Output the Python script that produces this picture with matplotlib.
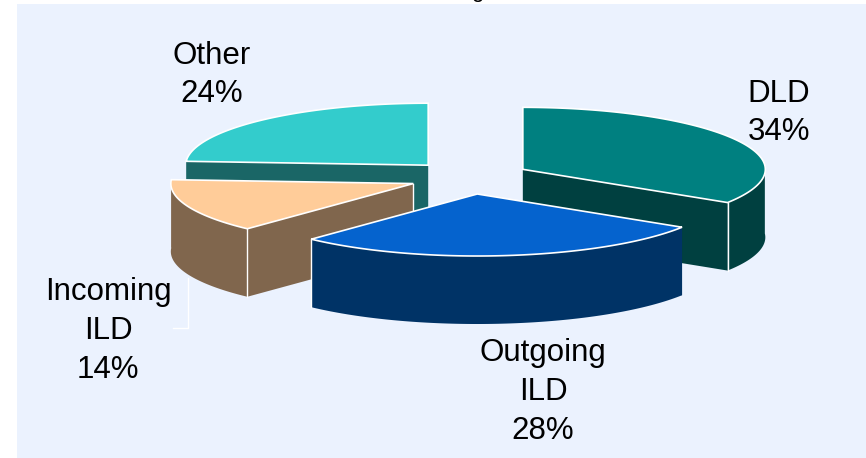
import numpy as np
import matplotlib.pyplot as plt
from matplotlib.patches import Polygon, Rectangle

plt.rcParams['font.family'] = ['Liberation Sans', 'DejaVu Sans']

# traffic mix, clockwise from 12 o'clock
labels = ['DLD', 'Outgoing\nILD', 'Incoming\nILD', 'Other']
shares = [34, 28, 14, 24]
top_colors = ['#008080', '#0563CE', '#FFCC99', '#33CCCC']
side_colors = ['#004040', '#003366', '#80664D', '#1A6666']

# pie geometry in pixels
cx, cy = 469.7, 177.4
rx, ry = 242.5, 62
depth = 68
explode_x, explode_y = 0.25, 0.27

fig = plt.figure(figsize=(8.66, 4.58), dpi=100)
ax = fig.add_axes([0, 0, 1, 1])
ax.set_xlim(0, 866)
ax.set_ylim(458, 0)
ax.axis('off')

ax.add_patch(Rectangle((17, 4), 849, 454, facecolor='#EBF2FE', edgecolor='none', zorder=0))

# slice angles
edges = np.concatenate([[0], np.cumsum(shares)]) / 100 * 2 * np.pi


def rim(a, ox, oy):
    return ox + rx * np.sin(a), oy - ry * np.cos(a)


def draw_slice(i, z, corners=(), apex_line=False):
    a0, a1 = edges[i], edges[i + 1]
    mid = (a0 + a1) / 2
    ox = cx + explode_x * rx * np.sin(mid)
    oy = cy - explode_y * ry * np.cos(mid)
    t = np.linspace(a0, a1, 120)
    x, y = rim(t, ox, oy)

    # side walls: the two cuts first, then the outer rim where it faces the viewer
    for a in (a0, a1):
        ex, ey = rim(a, ox, oy)
        wall = [(ox, oy), (ex, ey), (ex, ey + depth), (ox, oy + depth)]
        ax.add_patch(Polygon(wall, facecolor=side_colors[i], edgecolor='none', zorder=z))
    front = np.cos(t) < 0.07
    fx, fy = x[front], y[front]
    if len(fx) > 1:
        wall = np.column_stack([np.r_[fx, fx[::-1]], np.r_[fy, fy[::-1] + depth]])
        ax.add_patch(Polygon(wall, facecolor=side_colors[i], edgecolor='none', zorder=z + 0.1))

    # white creases on the walls
    for a in corners:
        ex, ey = rim(a, ox, oy)
        ax.plot([ex, ex], [ey, ey + depth], color='white', lw=1, zorder=z + 0.2)
    if apex_line:
        ax.plot([ox, ox], [oy, oy + depth], color='white', lw=1, zorder=z + 0.2)

    # top face
    top = np.column_stack([np.r_[ox, x], np.r_[oy, y]])
    ax.add_patch(Polygon(top, closed=True, facecolor=top_colors[i], edgecolor='white',
                         lw=1.2, joinstyle='miter', zorder=z + 0.3))


# back slices first so the nearer ones cover them
draw_slice(3, 1)
draw_slice(2, 2, corners=[edges[2]], apex_line=True)
draw_slice(0, 3, corners=[edges[1]])
draw_slice(1, 4, corners=[edges[2]])

# leader line for the Incoming label
ax.plot([188, 188, 173], [278, 328, 328], color='white', lw=1, zorder=0.5)

# data labels
label_pos = [(779, 113), (543, 392), (108, 331), (212, 75)]
for name, share, (lx, ly) in zip(labels, shares, label_pos):
    ax.text(lx, ly, f'{name}\n{share}%', ha='center', va='center', fontsize=22.5,
            color='black', linespacing=1.38, zorder=10)

# descender of the title line, which runs off the top edge
ax.text(477.5, -3.5, 'g', ha='center', va='baseline', fontsize=16, color='black', zorder=10)

fig.savefig('out.png', dpi=100)
